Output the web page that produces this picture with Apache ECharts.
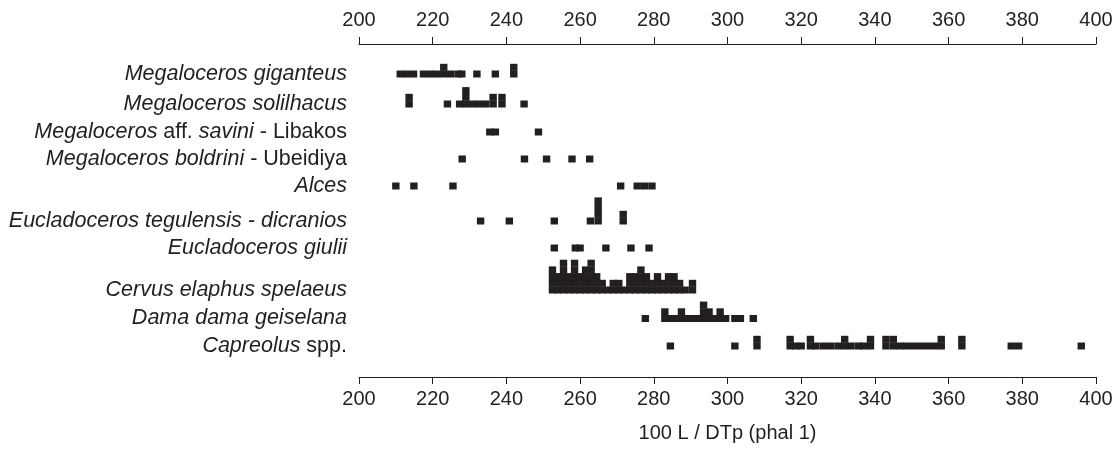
<!DOCTYPE html>
<html><head><meta charset="utf-8">
<script src="https://cdn.jsdelivr.net/npm/echarts@6/dist/echarts.min.js"></script>
<style>html,body{margin:0;padding:0;background:#fff}#c{width:1119px;height:449px}</style>
</head><body><div id="c"></div>
<script>
// ---- data ----
const speciesLabels = [
  "{i|Megaloceros giganteus}",
  "{i|Megaloceros solilhacus}",
  "{i|Megaloceros }{n|aff. }{i|savini}{n| - Libakos}",
  "{i|Megaloceros boldrini}{n| - Ubeidiya}",
  "{i|Alces}",
  "{i|Eucladoceros tegulensis - dicranios}",
  "{i|Eucladoceros giulii}",
  "{i|Cervus elaphus spelaeus}",
  "{i|Dama dama geiselana}",
  "{i|Capreolus}{n| spp.}"
];
const giganteus = [211.2,213,214.8,217.5,219.3,221.1,223,223,224.9,226.9,227.9,232,237,242,242];
const solilhacus = [213.6,213.6,224,227.3,229,229,229,230.8,232.6,234.4,236.4,236.4,238.8,238.8,244.8];
const savini = [235.5,237,248.7];
const boldrini = [228,244.9,250.9,257.8,262.6];
const alces = [210,214.9,225.5,271,275.5,277.5,279.5];
const tegulensis = [233,240.8,253,262.8,264.9,264.9,264.9,264.9,271.7,271.7];
const giulii = [253,258.7,260,267,273.8,278.7];
const cervus = [
  252.5,252.5,252.5,252.5, 254,254,254, 255.5,255.5,255.5,255.5,255.5, 257,257,257,
  258.5,258.5,258.5,258.5,258.5, 260,260,260, 261.5,261.5,261.5,261.5,
  263,263,263,263,263, 264.5,264.5,264.5, 266,266, 267.5, 269,269, 270.5,270.5, 272,
  273.5,273.5,273.5, 275,275,275, 276.5,276.5,276.5,276.5, 278,278,278, 279.5,279.5,
  281,281,281, 282.5,282.5, 284,284,284, 285.5,285.5,285.5, 287,287, 288.5, 290.5,290.5
];
const dama = [277.7,283,283,284.5,286,287.5,287.5,289,290.5,292,293.5,293.5,293.5,295,295,296.5,298,298,299.5,302,303.5,307];
const capreolus = [284.5,302,308,308,317,317,318.5,320,322.5,322.5,324,326,328,330,331.8,331.8,333.5,335.5,337,338.8,338.8,343,343,345,345,346.8,348.6,350.5,352.4,354.3,356.2,358,358,363.6,363.6,377,379,396];
const xTicks = [200,220,240,260,280,300,320,340,360,380,400];

// ---- layout (not data) ----
const rowBase = [30,60,88,115,142,177,204,246,274.5,302];
const stackStep = 6.7;
const allRows = [giganteus,solilhacus,savini,boldrini,alces,tegulensis,giulii,cervus,dama,capreolus];

const pts = [];
allRows.forEach((vals, r) => {
  const seen = {};
  vals.forEach(v => {
    const k = seen[v] || 0; seen[v] = k + 1;
    pts.push([v, rowBase[r] - k * stackStep]);
  });
});
const labelPts = speciesLabels.map((s, r) => ({value: [xTicks[0], rowBase[r]], name: s}));

const FONT = 'Liberation Sans, Arial, Helvetica, sans-serif';
const C = '#231f20';
const axisCommon = {
  type: 'value', min: xTicks[0], max: xTicks[xTicks.length-1], interval: 20,
  axisLine: {show: true, onZero: false, lineStyle: {color: C, width: 1}},
  axisTick: {show: true, length: 7, lineStyle: {color: C, width: 1}},
  splitLine: {show: false},
  axisLabel: {color: C, fontSize: 20, fontFamily: FONT}
};
const chart = echarts.init(document.getElementById('c'), null, {renderer: 'canvas'});
chart.setOption({
  animation: false,
  backgroundColor: '#fff',
  grid: {left: 359, right: 23, top: 44, bottom: 72},
  xAxis: [
    Object.assign({}, axisCommon, {position: 'bottom',
      axisLabel: Object.assign({}, axisCommon.axisLabel, {margin: 12}),
      name: '100 L / DTp (phal 1)', nameLocation: 'middle', nameGap: 46,
      nameTextStyle: {color: C, fontSize: 20, fontFamily: FONT}}),
    Object.assign({}, axisCommon, {position: 'top',
      axisLabel: Object.assign({}, axisCommon.axisLabel, {margin: 14})})
  ],
  yAxis: {type: 'value', min: 0, max: 333, inverse: true, show: false},
  series: [
    {type: 'scatter', xAxisIndex: 0, symbol: 'rect', symbolSize: [7.4, 7],
     itemStyle: {color: C, opacity: 1}, data: pts, silent: true},
    {type: 'scatter', xAxisIndex: 0, symbolSize: 0, data: labelPts, silent: true,
     itemStyle: {color: C},
     label: {show: true, position: 'left', distance: 12, formatter: p => p.name,
       color: C, opacity: 1, textBorderWidth: 0,
       rich: {
         i: {fontStyle: 'italic', fontSize: 21.5, color: C, fontFamily: FONT},
         n: {fontStyle: 'normal', fontSize: 21.5, color: C, fontFamily: FONT}
       }}}
  ]
});
</script></body></html>
